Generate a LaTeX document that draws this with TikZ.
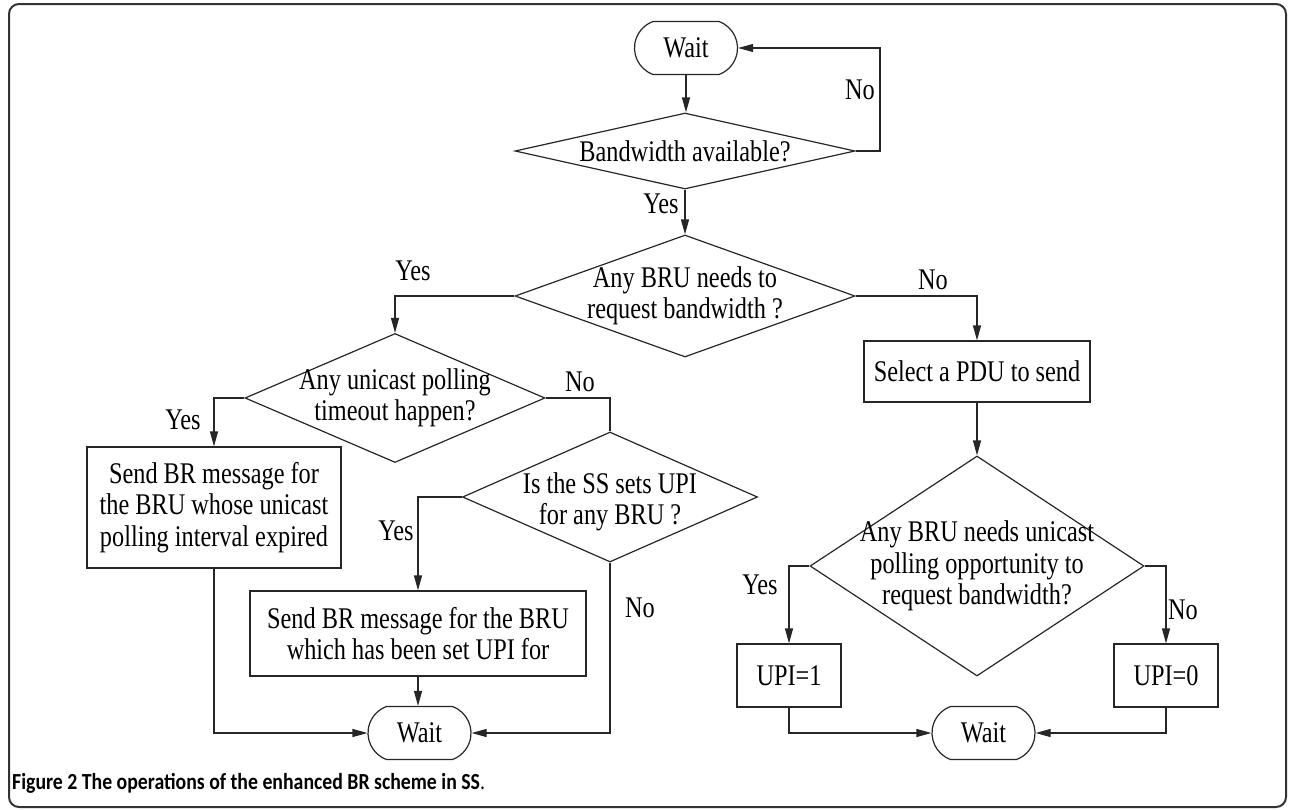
\documentclass[tikz,border=0pt]{standalone}
\usepackage{fontspec}
\setmainfont{Liberation Serif}
\newfontfamily\flowfont[FakeStretch=0.81]{Liberation Serif}
\newfontfamily\capfont[FakeStretch=0.86]{Carlito}
\usetikzlibrary{shapes.geometric,shapes.misc,arrows.meta}

\begin{document}
\begin{tikzpicture}[x=1pt,y=-1pt,
  every node/.style={font=\flowfont\fontsize{30}{31.5}\selectfont, text=black},
  stroke/.style={draw=black!85, line width=1.2pt},
  arr/.style={stroke, -{Triangle[length=15pt,width=8pt]}},
  proc/.style={stroke, rectangle, align=center, inner sep=0pt},
  term/.style={stroke, rounded rectangle, rounded rectangle arc length=140,
               minimum width=103pt, minimum height=53pt, inner sep=0pt},
  dec/.style={stroke, diamond, inner sep=0pt},
  dectext/.style={align=center, inner sep=0pt},
  lbl/.style={inner sep=0pt},
]
\useasboundingbox (0,0) rectangle (1292,809);

% outer frame
\draw[line width=2pt, draw=black!80, rounded corners=10pt] (9,4) rectangle (1286,807);

% main branch
\node[term] (w1) at (686,48) {Wait};
\node[dec, minimum width=340pt, minimum height=76pt] (d1) at (685,151) {};
\node[dectext] at (d1) {Bandwidth available?};
\node[dec, minimum width=340pt, minimum height=122pt] (d2) at (685,296) {};
\node[dectext] at (d2) {Any BRU needs to\\request bandwidth ?};

% left branch
\node[dec, minimum width=300pt, minimum height=129pt] (d3) at (395,398) {};
\node[dectext] at (d3) {Any unicast polling\\timeout happen?};
\node[proc, minimum width=254pt, minimum height=121pt] (b1) at (214,507.5)
  {Send BR message for\\the BRU whose unicast\\polling interval expired};
\node[dec, minimum width=295pt, minimum height=130pt] (d4) at (610,497) {};
\node[dectext, yshift=-5pt] at (d4) {Is the SS sets UPI\\for any BRU ?};
\node[proc, minimum width=336pt, minimum height=85pt] (b2) at (418,633.5)
  {Send BR message for the BRU\\which has been set UPI for};
\node[term] (w2) at (419.5,733) {Wait};

% right branch
\node[proc, minimum width=226pt, minimum height=61pt] (b3) at (977,371.5) {Select a PDU to send};
\node[dec, minimum width=334pt, minimum height=220pt] (d5) at (977,566) {};
\node[dectext] at (d5) {Any BRU needs unicast\\polling opportunity to\\request bandwidth?};
\node[proc, minimum width=104pt, minimum height=63pt] (u1) at (789,675.5) {UPI=1};
\node[proc, minimum width=104pt, minimum height=63pt] (u0) at (1166,675.5) {UPI=0};
\node[term] (w3) at (983.5,733) {Wait};

% connectors
\coordinate (loop) at (880,48);
\draw[arr] (w1.south) -- (w1.south |- d1.north);
\draw[arr] (d1.east) -| (loop) -- (w1.east);
\draw[arr] (d1.south) -- (d2.north);
\draw[arr] (d2.west) -| (d3.north);
\draw[arr] (d2.east) -| (b3.north);
\draw[arr] (d3.west) -| (b1.north);
\draw[stroke] (d3.east) -| (d4.north);
\draw[arr] (d4.west) -| (b2.north);
\draw[arr] (d4.south) |- (w2.east);
\draw[arr] (b1.south) |- (w2.west);
\draw[arr] (b2.south) -- (b2.south |- w2.north);
\draw[arr] (b3.south) -- (b3.south |- d5.north);
\draw[arr] (d5.west) -| (u1.north);
\draw[arr] (d5.east) -| (u0.north);
\draw[arr] (u1.south) |- (w3.west);
\draw[arr] (u0.south) |- (w3.east);

% branch labels
\node[lbl] at (860,90) {No};
\node[lbl] at (661,204) {Yes};
\node[lbl] at (413,271) {Yes};
\node[lbl] at (933,280) {No};
\node[lbl] at (183,420) {Yes};
\node[lbl] at (580,382) {No};
\node[lbl] at (396,531) {Yes};
\node[lbl] at (640,608) {No};
\node[lbl] at (760,585) {Yes};
\node[lbl] at (1183,610) {No};

% caption
\node[anchor=base west, inner sep=0pt, font=\capfont\fontsize{23}{26}\selectfont]
  (cap) at (12,789) {\textbf{Figure 2 The operations of the enhanced BR scheme in SS}.};
\end{tikzpicture}
\end{document}
